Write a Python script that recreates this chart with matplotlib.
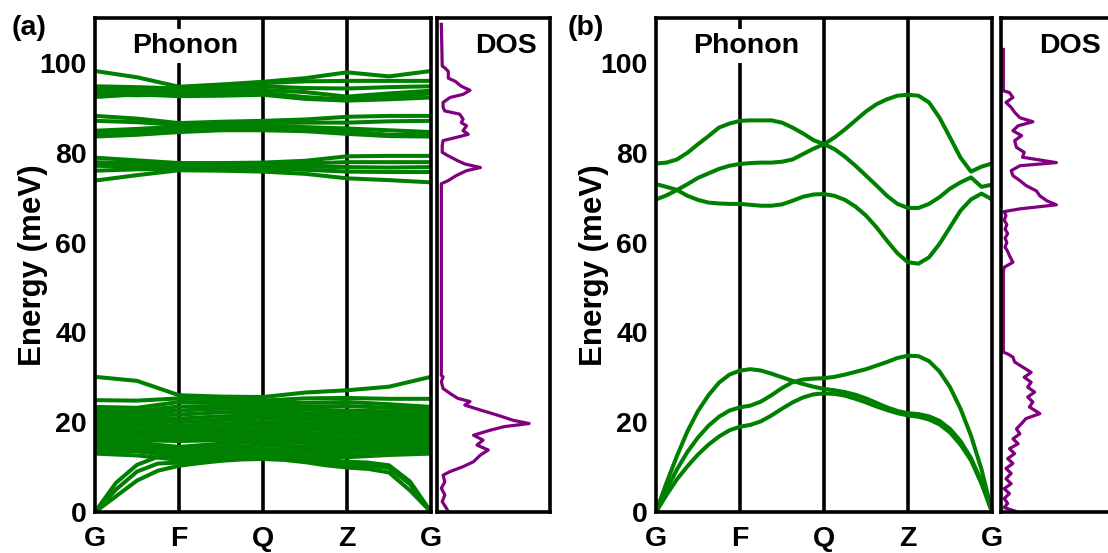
import matplotlib
matplotlib.use("Agg")
import matplotlib.pyplot as plt

plt.rcParams['font.family'] = ['Liberation Sans', 'DejaVu Sans']
plt.rcParams['font.weight'] = 'bold'

# ---------------- path / axis definitions ----------------
kpoint_labels = ['G', 'F', 'Q', 'Z', 'G']
kpoint_pos = [0, 1, 2, 3, 4]
energy_ticks = [0, 20, 40, 60, 80, 100]

q_coarse = [0, 0.5, 1.0, 1.5, 2.0, 2.5, 3.0, 3.5, 4.0]
q_quarter = [0, 0.25, 0.5, 0.75, 1.0, 1.25, 1.5, 1.75, 2.0,
             2.25, 2.5, 2.75, 3.0, 3.25, 3.5, 3.75, 4.0]
q_eighth = [0, 0.125, 0.25, 0.375, 0.5, 0.625, 0.75, 0.875, 1.0,
            1.125, 1.25, 1.375, 1.5, 1.625, 1.75, 1.875, 2.0,
            2.125, 2.25, 2.375, 2.5, 2.625, 2.75, 2.875, 3.0,
            3.125, 3.25, 3.375, 3.5, 3.625, 3.75, 3.875, 4.0]

# ---------------- (a) phonon bands (meV) ----------------
a_high_bands = [
    [98.2, 96.8, 94.7, 95.2, 95.8, 96.6, 97.9, 97.0, 98.2],
    [94.8, 94.6, 94.3, 94.9, 95.5, 95.9, 96.0, 96.0, 96.0],
    [94.2, 94.0, 93.9, 94.3, 94.8, 94.4, 94.3, 94.6, 94.8],
    [93.5, 93.3, 93.5, 93.8, 94.0, 93.5, 92.5, 93.2, 93.8],
    [93.0, 92.8, 93.0, 93.2, 93.3, 92.4, 91.8, 92.5, 93.2],
    [92.4, 93.0, 92.6, 92.7, 92.9, 92.0, 91.6, 91.9, 92.3],
]
a_mid_bands = [
    [88.2, 87.6, 86.6, 86.9, 87.1, 87.4, 88.0, 88.2, 88.2],
    [87.1, 86.8, 86.2, 86.3, 86.6, 86.7, 86.7, 87.0, 87.1],
    [84.9, 85.3, 85.8, 86.1, 86.0, 85.7, 85.4, 85.0, 84.6],
    [84.3, 84.6, 85.2, 85.6, 85.4, 85.1, 84.8, 84.0, 83.9],
    [83.6, 84.0, 84.6, 85.0, 85.0, 84.8, 84.2, 83.7, 83.6],
    [78.9, 78.3, 77.7, 77.7, 77.8, 78.2, 79.2, 79.3, 79.3],
    [77.9, 77.6, 77.3, 77.4, 77.5, 77.6, 77.9, 77.9, 77.9],
    [77.1, 76.9, 76.9, 77.0, 77.0, 76.9, 76.8, 76.7, 76.8],
    [76.0, 76.3, 76.4, 76.5, 76.4, 76.2, 75.8, 75.7, 75.7],
    [73.8, 75.0, 76.1, 76.0, 75.8, 75.3, 74.3, 73.9, 73.4],
]
a_low_bands = [
    [30.1, 29.2, 26.0, 25.7, 25.6, 26.6, 27.1, 27.9, 30.1],
    [24.9, 24.8, 25.3, 25.0, 24.8, 25.3, 25.4, 25.2, 25.2],
    [23.4, 23.2, 24.5, 24.3, 24.2, 24.3, 24.5, 24.0, 23.4],
    [22.8, 22.5, 23.5, 23.6, 23.8, 23.5, 23.6, 23.2, 22.8],
    [22.2, 22.0, 22.6, 23.0, 23.0, 22.8, 22.6, 22.4, 22.2],
    [21.5, 21.4, 21.7, 22.2, 22.3, 22.0, 21.8, 21.7, 21.5],
    [20.9, 21.0, 20.8, 21.3, 21.5, 21.3, 21.0, 21.0, 20.9],
    [20.3, 20.5, 20.0, 20.5, 20.8, 20.6, 20.2, 20.4, 20.3],
    [19.7, 19.8, 19.2, 19.7, 20.0, 19.8, 19.5, 19.7, 19.7],
    [19.1, 19.0, 18.5, 18.9, 19.3, 19.1, 18.8, 19.0, 19.1],
    [18.5, 18.2, 17.8, 18.2, 18.5, 18.4, 18.1, 18.3, 18.5],
    [17.9, 17.5, 17.2, 17.4, 17.8, 17.6, 17.4, 17.6, 17.9],
    [17.2, 16.8, 16.4, 16.7, 17.0, 16.9, 16.6, 16.9, 17.2],
    [16.5, 16.0, 15.8, 16.0, 16.3, 16.1, 15.9, 16.2, 16.5],
    [15.8, 15.4, 14.5, 15.2, 15.6, 15.4, 15.2, 15.5, 15.8],
    [15.1, 14.8, 13.8, 14.4, 14.8, 14.6, 14.5, 14.8, 15.1],
    [14.4, 14.2, 13.1, 13.7, 14.0, 13.9, 13.8, 14.1, 14.4],
    [13.7, 13.5, 12.4, 13.0, 13.3, 13.2, 13.0, 13.4, 13.7],
    [13.0, 12.6, 11.6, 12.3, 12.6, 12.4, 12.2, 12.7, 13.0],
]
a_acoustic = [
    [0, 5.0, 9.0, 10.8, 11.0, 11.3, 11.8, 12.1, 12.2, 12.0, 11.6, 11.0, 10.5, 10.3, 9.8, 6.2, 0],
    [0, 3.5, 7.0, 9.2, 10.3, 10.9, 11.4, 11.7, 11.8, 11.6, 11.1, 10.4, 9.9, 9.6, 8.8, 4.8, 0],
    [0, 6.5, 10.5, 12.3, 12.0, 12.5, 13.0, 13.2, 13.3, 13.0, 12.4, 11.6, 11.2, 11.0, 10.4, 6.8, 0],
]

# ---------------- (b) phonon bands (meV) ----------------
b_acoustic = [
    [0, 6.5, 12.5, 18.0, 22.5, 26.0, 28.8, 30.6, 31.5, 31.8, 31.5, 30.8, 30.0, 29.2, 28.5, 27.9, 27.4,
     27.1, 26.7, 26.1, 25.3, 24.3, 23.3, 22.5, 22.0, 21.8, 21.3, 20.3, 18.5, 15.8, 12.0, 6.8, 0],
    [0, 5.0, 9.5, 13.4, 16.6, 19.2, 21.2, 22.6, 23.3, 23.7, 24.6, 26.0, 27.6, 28.9, 29.5, 29.7, 29.8,
     30.1, 30.6, 31.2, 31.8, 32.6, 33.4, 34.3, 34.8, 34.7, 33.6, 31.3, 27.8, 23.0, 17.0, 9.5, 0],
    [0, 3.8, 7.3, 10.2, 12.8, 15.0, 16.8, 18.2, 19.0, 19.4, 20.2, 21.5, 23.0, 24.4, 25.5, 26.2, 26.4,
     26.3, 25.9, 25.2, 24.4, 23.5, 22.7, 22.0, 21.5, 21.2, 20.6, 19.5, 17.7, 15.0, 11.5, 6.3, 0],
]
b_optical = [
    [77.6, 77.8, 78.5, 80.0, 81.9, 83.7, 85.6, 86.5, 87.1, 87.2, 87.2, 87.2, 86.7, 85.6, 84.3, 82.8, 81.9,
     80.8, 79.1, 77.1, 74.9, 72.7, 70.4, 68.6, 67.7, 67.7, 68.6, 70.1, 72.0, 73.4, 74.5, 72.4, 72.9],
    [69.6, 70.5, 71.7, 73.0, 74.4, 75.4, 76.4, 77.1, 77.5, 77.7, 77.8, 77.8, 78.0, 78.5, 79.7, 80.9, 81.9,
     83.4, 85.2, 87.2, 89.2, 90.8, 91.9, 92.7, 92.9, 92.7, 91.2, 87.8, 83.4, 78.9, 75.8, 76.9, 77.6],
    [73.0, 72.4, 71.7, 70.4, 69.5, 68.9, 68.7, 68.6, 68.6, 68.4, 68.2, 68.2, 68.5, 69.3, 70.2, 70.7, 70.8,
     70.4, 69.5, 68.0, 66.0, 63.4, 60.4, 57.6, 55.6, 55.3, 56.7, 59.7, 63.4, 67.1, 69.6, 70.9, 69.6],
]

# ---------------- densities of states ----------------
a_dos_energy = [0.0, 0.8, 2.3, 3.8, 5.3, 6.7, 8.2, 9.0, 10.1, 11.2, 12.7, 13.8, 14.9, 16.0,
                17.1, 18.2, 19.0, 19.7, 20.4, 21.6, 22.7, 23.8, 24.6, 25.3, 26.4, 27.5,
                29.0, 30.1, 30.4, 73.1, 73.8, 74.9, 76.0, 76.7, 77.5, 78.2, 79.3, 80.1,
                81.6, 82.7, 83.4, 84.1, 84.9, 86.0, 86.7, 87.5, 88.6, 89.3, 90.1, 91.2,
                92.3, 93.0, 93.9, 94.8, 95.9, 96.6, 98.1, 98.9, 99.3, 108.6]
a_dos_value = [0.08, 0.06, 0.01, 0.04, 0.0, 0.04, 0.02, 0.10, 0.25, 0.37, 0.45, 0.54, 0.41, 0.48,
               0.37, 0.56, 0.72, 1.01, 0.83, 0.64, 0.45, 0.27, 0.33, 0.19, 0.10, 0.02,
               0.0, 0.02, 0.0, 0.0, 0.08, 0.17, 0.29, 0.45, 0.27, 0.19, 0.08, 0.01,
               0.01, 0.02, 0.17, 0.31, 0.25, 0.29, 0.23, 0.25, 0.21, 0.04, 0.02, 0.02,
               0.10, 0.25, 0.33, 0.23, 0.16, 0.08, 0.08, 0.04, 0.01, 0.0]

b_dos_energy = [0.0, 0.1, 1.0, 1.9, 3.0, 4.1, 5.2, 6.3, 7.4, 8.6, 9.7, 10.8, 11.9, 13.0, 14.1,
                15.2, 16.3, 17.4, 18.5, 19.7, 20.8, 21.9, 23.4, 24.5, 25.6, 26.7, 27.8,
                28.9, 30.0, 31.1, 32.3, 33.4, 34.5, 35.2, 35.6, 53.5, 54.5, 55.6, 57.1,
                58.0, 59.0, 60.0, 61.0, 62.0, 63.0, 64.0, 65.0, 66.0, 66.9, 67.5, 68.4,
                69.3, 70.4, 71.5, 72.7, 73.8, 74.9, 76.0, 77.1, 77.8, 79.0, 80.1, 81.2,
                82.7, 83.8, 84.9, 86.0, 86.9, 87.8, 89.0, 90.1, 91.2, 92.3, 93.4, 93.8, 103.0]
b_dos_value = [0.15, 0.15, 0.01, 0.05, 0.01, 0.07, 0.01, 0.09, 0.03, 0.09, 0.03, 0.11, 0.05, 0.13, 0.07,
               0.17, 0.11, 0.19, 0.15, 0.21, 0.26, 0.42, 0.30, 0.34, 0.28, 0.36, 0.28,
               0.32, 0.24, 0.32, 0.22, 0.13, 0.11, 0.05, 0.0, 0.0, 0.01, 0.11, 0.07,
               0.05, 0.02, 0.04, 0.02, 0.05, 0.02, 0.04, 0.01, 0.03, 0.01, 0.19, 0.61,
               0.50, 0.42, 0.38, 0.26, 0.19, 0.11, 0.09, 0.19, 0.61, 0.22, 0.24, 0.15,
               0.13, 0.21, 0.11, 0.17, 0.34, 0.19, 0.13, 0.09, 0.03, 0.11, 0.07, 0.0, 0.0]

GREEN = '#008000'
PURPLE = '#800080'
LW_BAND = 2.9
LW_DOS = 2.3
LW_FRAME = 2.6
FS = 20.5

W, H = 1108, 553
fig = plt.figure(figsize=(W / 100, H / 100), dpi=100)


def px_axes(left, right, top, bottom):
    return fig.add_axes([left / W, 1 - bottom / H, (right - left) / W, (bottom - top) / H])


def style_frame(ax):
    for s in ax.spines.values():
        s.set_linewidth(LW_FRAME)
        s.set_color('black')
        s.set_zorder(6)


def style_phonon(ax):
    ax.set_xlim(0, 4)
    ax.set_ylim(0, 110)
    ax.set_xticks(kpoint_pos)
    ax.set_xticklabels(kpoint_labels)
    ax.set_yticks(energy_ticks)
    ax.tick_params(axis='both', length=0, labelsize=FS)
    ax.tick_params(axis='x', pad=10)
    ax.tick_params(axis='y', pad=6)
    for lab in ax.get_xticklabels() + ax.get_yticklabels():
        lab.set_fontweight('bold')
    for x in kpoint_pos[1:-1]:
        ax.axvline(x, color='black', lw=LW_FRAME, zorder=1)
    style_frame(ax)
    ax.set_ylabel('Energy (meV)', fontsize=22.5, fontweight='bold')
    ax.yaxis.set_label_coords(-0.14, 0.5)
    ax.text(1.07, 103.8, 'Phonon', fontsize=FS, fontweight='bold', ha='center', va='center',
            zorder=4, bbox=dict(facecolor='white', edgecolor='none', pad=3))


def style_dos(ax, x_lo):
    ax.set_ylim(0, 110)
    ax.set_xlim(x_lo, x_lo + 1.30)
    ax.set_xticks([])
    ax.set_yticks([])
    style_frame(ax)
    ax.text(0.61, 103.8 / 110, 'DOS', transform=ax.transAxes, fontsize=FS,
            fontweight='bold', ha='center', va='center')


def draw_bands(ax, qpath, bands):
    for band in bands:
        ax.plot(qpath, band, color=GREEN, lw=LW_BAND, zorder=3,
                solid_joinstyle='round', solid_capstyle='round')


# ---- panel (a)
ax_a = px_axes(95, 431, 18, 512)
draw_bands(ax_a, q_coarse, a_high_bands + a_mid_bands + a_low_bands)
draw_bands(ax_a, q_quarter, a_acoustic)
style_phonon(ax_a)

ax_ad = px_axes(437, 550, 18, 512)
ax_ad.plot(a_dos_value, a_dos_energy, color=PURPLE, lw=LW_DOS, zorder=3)
style_dos(ax_ad, -0.05)

# ---- panel (b)
ax_b = px_axes(656, 992, 18, 512)
draw_bands(ax_b, q_eighth, b_acoustic + b_optical)
style_phonon(ax_b)

ax_bd = px_axes(1001, 1114, 18, 512)
ax_bd.plot(b_dos_value, b_dos_energy, color=PURPLE, lw=LW_DOS, zorder=3)
style_dos(ax_bd, -0.027)

fig.text(12 / W, 1 - 15 / H, '(a)', fontsize=FS, fontweight='bold', ha='left', va='top')
fig.text(568 / W, 1 - 15 / H, '(b)', fontsize=FS, fontweight='bold', ha='left', va='top')

fig.savefig('out.png', dpi=100)
